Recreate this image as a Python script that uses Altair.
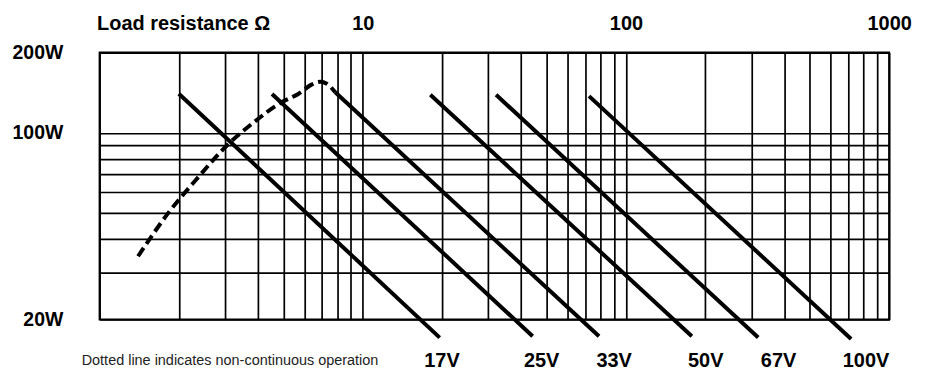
import altair as alt
import pandas as pd

# ---- data ----
volts = ["17V", "25V", "33V", "50V", "67V", "100V"]
r_start = [2.0, 4.52, 7.86, 18.06, 32.1, 72.4]
p_start = [140.3, 140.0, 142.0, 139.0, 139.0, 137.4]
r_end = [19.6, 44.2, 79.0, 178.0, 318.0, 717.0]
p_end = [17.1, 17.3, 17.3, 17.3, 17.1, 16.9]
label_r = [20.0, 47.8, 90.2, 201.0, 380.0, 817.0]

curve_r = [1.40, 1.84, 2.32, 3.10, 3.80, 4.93, 5.71, 6.41, 6.89, 7.30, 7.86]
curve_p = [34.5, 50.7, 66.6, 91.3, 108.4, 130.5, 140.3, 152.0, 155.5, 152.9, 142.0]

x_grid = [1, 2, 3, 4, 5, 6, 7, 8, 9, 10, 20, 30, 40, 50, 60, 70, 80, 90, 100,
          200, 300, 400, 500, 600, 700, 800, 900, 1000]
x_labels = [10, 100, 1000]
y_grid = [20, 30, 40, 50, 60, 70, 80, 90, 100, 200]
y_labels = [20, 100, 200]
note = "Dotted line indicates non-continuous operation"

# ---- tables ----
rows = []
for v, rs, ps, re_, pe in zip(volts, r_start, p_start, r_end, p_end):
    rows.append({"V": v, "R": rs, "P": ps, "o": 0})
    rows.append({"V": v, "R": re_, "P": pe, "o": 1})
lines_df = pd.DataFrame(rows)
curve_df = pd.DataFrame({"R": curve_r, "P": curve_p, "o": list(range(len(curve_r)))})
labels_df = pd.DataFrame({"V": volts, "R": label_r})
note_df = pd.DataFrame({"t": [note]})

FONT = "Liberation Sans"
BIG = 20
x_scale = alt.Scale(type="log", domain=[1, 1000], nice=False)
y_scale = alt.Scale(type="log", domain=[20, 200], nice=False)

x_lab_expr = "indexof(%s, datum.value) >= 0 ? format(datum.value, 'd') : ''" % str(x_labels)
y_lab_expr = "indexof(%s, datum.value) >= 0 ? format(datum.value, 'd') + 'W' : ''" % str(y_labels)

x_axis = alt.Axis(
    orient="top", values=x_grid, grid=True, ticks=False, tickSize=0, domain=False,
    labelExpr=x_lab_expr, labelOverlap=False, labelFlush=False,
    labelPadding=29, labelBaseline="middle", labelFontSize=BIG,
    labelFontWeight="bold", labelFont=FONT, labelColor="black",
    title="Load resistance Ω", titleAnchor="start", titleAlign="left",
    titleX=-3, titleY=-29, titleBaseline="middle", titleFontSize=BIG,
    titleFontWeight="bold", titleFont=FONT, titleColor="black",
    gridColor="black", gridWidth=1.7, gridOpacity=1,
)
y_axis = alt.Axis(
    orient="left", values=y_grid, grid=True, ticks=False, tickSize=0, domain=False,
    labelExpr=y_lab_expr, labelOverlap=False, labelFlush=False,
    labelPadding=37, labelBaseline="middle", labelAlign="right", labelFontSize=19.5,
    labelFontWeight="bold", labelFont=FONT, labelColor="black", title=None,
    gridColor="black", gridWidth=1.7, gridOpacity=1,
)

X = alt.X("R:Q", scale=x_scale, axis=x_axis)
Y = alt.Y("P:Q", scale=y_scale, axis=y_axis)

lines = alt.Chart(lines_df).mark_line(color="black", strokeWidth=4, clip=False).encode(
    x=X, y=Y, detail="V:N", order="o:Q",
)

curve = alt.Chart(curve_df).mark_line(
    color="black", strokeWidth=4, strokeDash=[10, 5], interpolate="monotone", clip=False
).encode(
    x=X, y=Y, order="o:Q",
)

vlabels = alt.Chart(labels_df).mark_text(
    font=FONT, fontSize=BIG, fontWeight="bold", align="center", baseline="middle", color="black"
).encode(
    x=X,
    y=alt.value(310),
    text="V:N",
)

note_txt = alt.Chart(note_df).mark_text(
    font=FONT, fontSize=14.5, align="left", baseline="middle", color="#222"
).encode(
    x=alt.value(-18),
    y=alt.value(310),
    text="t:N",
)

chart = alt.layer(lines, curve, vlabels, note_txt).properties(
    width=793,
    height=268,
    padding={"left": 92, "top": 44, "right": 30, "bottom": 52},
    autosize=alt.AutoSizeParams(type="none"),
    background="white",
).configure_view(stroke="black", strokeWidth=2)

chart.save("out.html", embed_options={"renderer": "svg", "actions": False})
